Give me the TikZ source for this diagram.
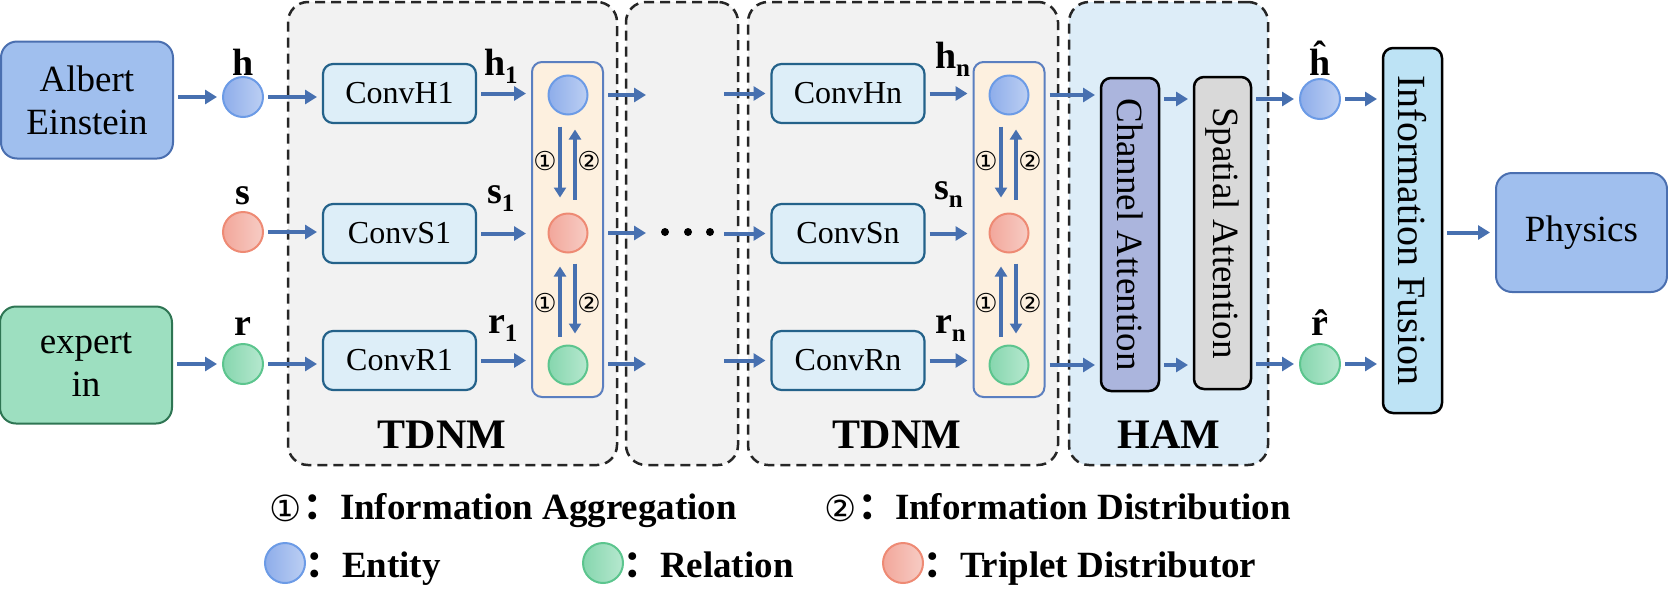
\documentclass[tikz,border=0pt]{standalone}
\usepackage{fontspec}
\setmainfont{LiberationSerif}[Extension=.ttf,UprightFont=*-Regular,BoldFont=*-Bold]
\newfontfamily\symf{DejaVu Sans}
\newfontfamily\cjk{Noto Sans CJK SC}
\usetikzlibrary{shapes,arrows.meta,calc}
\definecolor{arrc}{HTML}{4770B0}
\definecolor{entf}{HTML}{A0BFEE}
\definecolor{entd}{HTML}{4A6FB0}
\definecolor{relf}{HTML}{9DDFC0}
\definecolor{reld}{HTML}{2E7553}
\definecolor{convf}{HTML}{DDEEF8}
\definecolor{convd}{HTML}{24628A}
\definecolor{panf}{HTML}{FDF0DF}
\definecolor{pand}{HTML}{5B7FC0}
\definecolor{tdf}{HTML}{F2F2F2}
\definecolor{hamf}{HTML}{DDEDF8}
\definecolor{caf}{HTML}{ABB5DD}
\definecolor{saf}{HTML}{D9D9D9}
\definecolor{iff}{HTML}{BDE3F5}
\definecolor{bcd}{HTML}{6C9BE6}
\definecolor{bcl}{HTML}{8EADEA}
\definecolor{bcr}{HTML}{BCCFF3}
\definecolor{rcd}{HTML}{EE8A74}
\definecolor{rcl}{HTML}{F2A79B}
\definecolor{rcr}{HTML}{F7CCC4}
\definecolor{gcd}{HTML}{5CC58E}
\definecolor{gcl}{HTML}{86D6AE}
\definecolor{gcr}{HTML}{B6E8CF}
\newcommand\lsub[1]{\raisebox{-8pt}{\fontsize{25}{25}\selectfont #1}}

\begin{document}
\begin{tikzpicture}[x=1pt,y=-1pt,
      every node/.style={inner sep=0pt,outer sep=0pt},
      arr/.style={draw=arrc,line width=4pt,shorten <=5pt,shorten >=6pt,-{Triangle[length=12pt,width=14pt]}},
      varr/.style={draw=arrc,line width=3.5pt,-{Triangle[length=10pt,width=12pt]}},
      dbox/.style={draw=black!85,line width=2.5pt,dash pattern=on 10pt off 6pt,rounded corners=20pt},
      bigbox/.style={rounded corners=16pt,line width=2pt,minimum width=172pt,minimum height=117pt,align=center,font=\fontsize{37}{43}\selectfont},
      cbox/.style={rounded corners=10pt,draw=convd,fill=convf,line width=2.2pt,minimum width=153pt,minimum height=59pt,font=\fontsize{32}{32}\selectfont},
      panel/.style={rounded corners=10pt,draw=pand,fill=panf,line width=2pt,minimum width=71pt,minimum height=335pt},
      vbox/.style={rounded corners=10pt,draw=black,line width=2.5pt,rotate=-90,font=\fontsize{37}{37}\selectfont},
      ecirc/.style={circle,minimum size=40pt,line width=2pt,draw=bcd,left color=bcl,right color=bcr},
      rcirc/.style={circle,minimum size=40pt,line width=2pt,draw=gcd,left color=gcl,right color=gcr},
      tcirc/.style={circle,minimum size=40pt,line width=2pt,draw=rcd,left color=rcl,right color=rcr},
      lab/.style={anchor=base,font=\bfseries\fontsize{38}{38}\selectfont},
      slab/.style={anchor=base west,font=\bfseries\fontsize{38}{38}\selectfont},
      tlab/.style={anchor=base,font=\bfseries\fontsize{42}{42}\selectfont},
      num/.style={font=\symf\fontsize{26}{26}\selectfont},
      leg/.style={anchor=base west,font=\bfseries\fontsize{37}{37}\selectfont}]
    \useasboundingbox (0,0) rectangle (1668,595);

    \node[dbox,fill=tdf,minimum width=329pt,minimum height=463pt] (g1) at (452.5,233.5) {};
    \node[dbox,fill=tdf,minimum width=112pt,minimum height=463pt] (g2) at (682,233.5) {};
    \node[dbox,fill=tdf,minimum width=310pt,minimum height=463pt] (g3) at (903,233.5) {};
    \node[dbox,fill=hamf,minimum width=199pt,minimum height=463pt] (g4) at (1168.5,233.5) {};
    \node[tlab] (g1l) at (442,448) {TDNM};
    \node[tlab] (g3l) at (897,448) {TDNM};
    \node[tlab] (g4l) at (1169,448) {HAM};

    \node[bigbox,draw=entd,fill=entf] (ae) at (87,100) {Albert\\Einstein};
    \node[bigbox,draw=reld,fill=relf] (ei) at (86,365) {expert\\in};

    \node[ecirc] (h) at (243,97) {};
    \node[tcirc] (s) at (243,232) {};
    \node[rcirc] (r) at (243,364) {};
    \node[lab] (hl) at (243,75) {h};
    \node[lab] (sl) at (243,204) {s};
    \node[lab] (rl) at (243,335) {r};

    \node[cbox] (c1h) at (399.5,93.5) {ConvH1};
    \node[cbox] (c1s) at (399.5,233.5) {ConvS1};
    \node[cbox] (c1r) at (399.5,360.5) {ConvR1};
    \node[slab] (h1l) at (484,75) {h\lsub{1}};
    \node[slab] (s1l) at (487,203) {s\lsub{1}};
    \node[slab] (r1l) at (488,333) {r\lsub{1}};

    \node[panel] (p1) at (567.5,229.5) {};
    \node[ecirc,minimum size=39pt] (a1) at (568,95) {};
    \node[tcirc,minimum size=39pt] (a2) at (568,233) {};
    \node[rcirc,minimum size=39pt] (a3) at (568,365) {};
    \node[num] (a1n) at (545,161) {①};
    \node[num] (a2n) at (589,161) {②};
    \node[num] (a3n) at (545,303) {①};
    \node[num] (a4n) at (589,303) {②};

    \node[cbox] (cnh) at (848,93.5) {ConvHn};
    \node[cbox] (cns) at (848,233.5) {ConvSn};
    \node[cbox] (cnr) at (848,360.5) {ConvRn};
    \node[slab] (hnl) at (935,68) {h\lsub{n}};
    \node[slab] (snl) at (934,199) {s\lsub{n}};
    \node[slab] (rnl) at (935,333) {r\lsub{n}};

    \node[panel] (p2) at (1009,229.5) {};
    \node[ecirc,minimum size=39pt] (b1) at (1009,95) {};
    \node[tcirc,minimum size=39pt] (b2) at (1009,233) {};
    \node[rcirc,minimum size=39pt] (b3) at (1009,365) {};
    \node[num] (b1n) at (986,161) {①};
    \node[num] (b2n) at (1030,161) {②};
    \node[num] (b3n) at (986,303) {①};
    \node[num] (b4n) at (1030,303) {②};

    \node[vbox,fill=caf,minimum width=313pt,minimum height=58pt] (ca) at (1130,234.5) {Channel Attention};
    \node[vbox,fill=saf,minimum width=312pt,minimum height=57pt] (sa) at (1222.5,233) {Spatial Attention};
    \node[ecirc] (hh) at (1320,99) {};
    \node[rcirc] (rh) at (1320,364) {};
    \node[lab] (hhl) at (1320,75) {\^{h}};
    \node[lab] (rhl) at (1320,335) {\^{r}};
    \node[vbox,fill=iff,minimum width=365pt,minimum height=59pt,font=\fontsize{40}{40}\selectfont] (fu) at (1412.5,230.5) {Information Fusion};
    \node[bigbox,minimum width=171pt,minimum height=119pt,draw=entd,fill=entf] (phy) at (1581.5,232.5) {Physics};

    \coordinate (o1) at (652,95);
    \coordinate (o2) at (652,233);
    \coordinate (o3) at (652,364);
    \coordinate (i1) at (719,93.5);
    \coordinate (i2) at (719,233.5);
    \coordinate (i3) at (719,360.5);
    \fill (665,232) circle (4) (688,232) circle (4) (710,232) circle (4);

    \draw[arr] (ae.east |- h) -- (h.west);
    \draw[arr] (ei.east |- r) -- (r.west);
    \draw[arr] (h.east) -- (h.east -| c1h.west);
    \draw[arr] (s.east) -- (s.east -| c1s.west);
    \draw[arr] (r.east) -- (r.east -| c1r.west);
    \draw[arr] (c1h.east) -- (c1h.east -| p1.west);
    \draw[arr] (c1s.east) -- (c1s.east -| p1.west);
    \draw[arr] (c1r.east) -- (c1r.east -| p1.west);
    \draw[varr] ($(a1.south)+(-8,12)$) -- ($(a2.north)+(-8,-16)$);
    \draw[varr] ($(a2.north)+(7,-14)$) -- ($(a1.south)+(7,15)$);
    \draw[varr] ($(a3.north)+(-8,-9)$) -- ($(a2.south)+(-8,14)$);
    \draw[varr] ($(a2.south)+(7,11)$) -- ($(a3.north)+(7,-12)$);
    \draw[arr] (p1.east |- o1) -- (o1);
    \draw[arr] (p1.east |- o2) -- (o2);
    \draw[arr] (p1.east |- o3) -- (o3);
    \draw[arr] (i1) -- (cnh.west);
    \draw[arr] (i2) -- (cns.west);
    \draw[arr] (i3) -- (cnr.west);
    \draw[arr] (cnh.east) -- (cnh.east -| p2.west);
    \draw[arr] (cns.east) -- (cns.east -| p2.west);
    \draw[arr] (cnr.east) -- (cnr.east -| p2.west);
    \draw[varr] ($(b1.south)+(-8,12)$) -- ($(b2.north)+(-8,-16)$);
    \draw[varr] ($(b2.north)+(7,-14)$) -- ($(b1.south)+(7,15)$);
    \draw[varr] ($(b3.north)+(-8,-9)$) -- ($(b2.south)+(-8,14)$);
    \draw[varr] ($(b2.south)+(7,11)$) -- ($(b3.north)+(7,-12)$);
    \draw[arr] (p2.east |- b1) -- (b1 -| ca.south);
    \draw[arr] (p2.east |- b3) -- (b3 -| ca.south);
    \draw[arr] (ca.north |- hh) -- (hh -| sa.south);
    \draw[arr] (ca.north |- b3) -- (b3 -| sa.south);
    \draw[arr] (sa.north |- hh) -- (hh.west);
    \draw[arr] (sa.north |- rh) -- (rh.west);
    \draw[arr] (hh.east) -- (hh.east -| fu.south);
    \draw[arr] (rh.east) -- (rh.east -| fu.south);
    \draw[arr] (fu.north |- phy) -- (phy.west);

    \node[font=\symf\fontsize{36}{36}\selectfont] (k1) at (286,508) {①};
    \node[leg] (k1t) at (303,519) {{\cjk ：}Information Aggregation};
    \node[font=\symf\fontsize{36}{36}\selectfont] (k2) at (841,508) {②};
    \node[leg] (k2t) at (858,519) {{\cjk ：}Information Distribution};
    \node[ecirc] (k3) at (285,563) {};
    \node[leg] (k3t) at (305,577) {{\cjk ：}Entity};
    \node[rcirc] (k4) at (603,563) {};
    \node[leg] (k4t) at (623,577) {{\cjk ：}Relation};
    \node[tcirc] (k5) at (903,563) {};
    \node[leg] (k5t) at (923,577) {{\cjk ：}Triplet Distributor};
\end{tikzpicture}
\end{document}
